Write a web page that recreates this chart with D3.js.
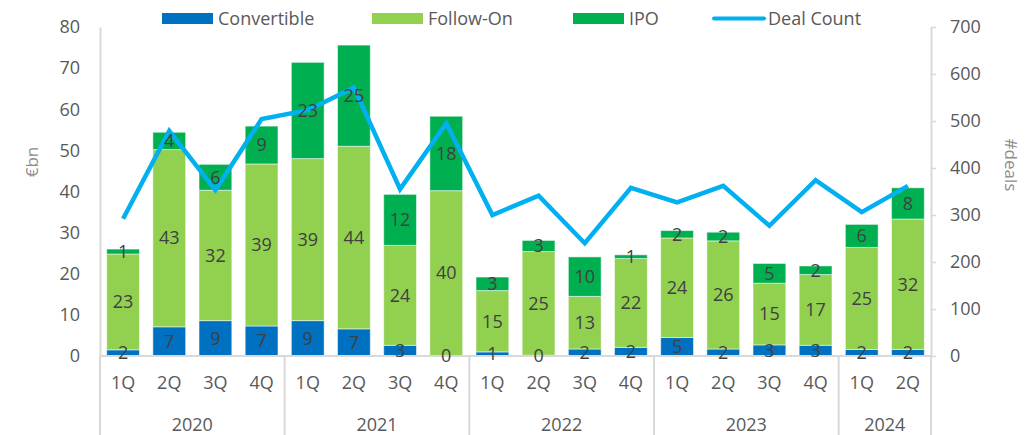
<!DOCTYPE html>
<html lang="en">
  <head>
    <meta charset="UTF-8" />
    <title>Equity issuance</title>
    <style>
      body { margin: 0; background: #fff; }
      text { font-family: "Open Sans", sans-serif; }
    </style>
  </head>
  <body>
    <svg id="svg" width="1029" height="435"></svg>

    <script src="https://cdn.jsdelivr.net/npm/d3@7"></script>
    <script>
      const WIDTH = 1029;
      const HEIGHT = 435;
      const LEFT = 100;
      const RIGHT = 931;
      const TOP = 27;
      const BASE = 356;
      const FONT = 18;

      const quarters = ["1Q", "2Q", "3Q", "4Q", "1Q", "2Q", "3Q", "4Q", "1Q", "2Q", "3Q", "4Q", "1Q", "2Q", "3Q", "4Q", "1Q", "2Q"];
      const years = ["2020", "2021", "2022", "2023", "2024"];
      const quartersPerYear = [4, 4, 4, 4, 2];

      // €bn per quarter
      const convertible = [1.5, 7.1, 8.6, 7.3, 8.6, 6.6, 2.6, 0.1, 1.0, 0.2, 1.7, 2.1, 4.5, 1.7, 2.7, 2.6, 1.6, 1.6];
      const followOn = [23.3, 43.1, 31.7, 39.4, 39.4, 44.4, 24.3, 40.1, 14.9, 25.2, 12.8, 21.6, 24.2, 26.3, 15.0, 17.2, 24.8, 31.7];
      const ipo = [1.2, 4.2, 6.3, 9.2, 23.4, 24.6, 12.4, 18.1, 3.3, 2.7, 9.6, 0.9, 1.8, 2.1, 4.8, 2.1, 5.6, 7.6];
      const dealCount = [292, 479, 353, 504, 523, 571, 355, 495, 300, 341, 240, 358, 327, 362, 277, 374, 306, 362];

      const leftTicks = [0, 10, 20, 30, 40, 50, 60, 70, 80];
      const rightTicks = [0, 100, 200, 300, 400, 500, 600, 700];

      const seriesNames = ["Convertible", "Follow-On", "IPO"];
      const colors = { Convertible: "#0070C0", "Follow-On": "#92D050", IPO: "#00B050" };
      const LINE_COLOR = "#00B0F0";
      const AXIS_COLOR = "#D9D9D9";
      const TEXT_COLOR = "#595959";

      const svg = d3.select("#svg");

      const x = d3
        .scaleBand()
        .domain(d3.range(quarters.length))
        .range([LEFT, RIGHT])
        .paddingInner(0.29)
        .paddingOuter(0.145);

      const y = d3.scaleLinear().domain([0, 80]).range([BASE, TOP]);
      const y2 = d3.scaleLinear().domain([0, 700]).range([BASE, TOP]);

      const table = quarters.map((q, i) => ({
        Convertible: convertible[i],
        "Follow-On": followOn[i],
        IPO: ipo[i],
      }));
      const stacked = d3.stack().keys(seriesNames)(table);

      // left axis
      const leftAxis = svg
        .append("g")
        .attr("transform", `translate(${LEFT},0)`)
        .call(d3.axisLeft(y).tickValues(leftTicks).tickSize(0).tickPadding(20));
      leftAxis.select(".domain").attr("stroke", AXIS_COLOR).attr("stroke-width", 2);
      leftAxis.selectAll("text").attr("fill", TEXT_COLOR).attr("font-size", FONT).attr("font-family", "Open Sans");

      // right axis
      const rightAxis = svg
        .append("g")
        .attr("transform", `translate(${RIGHT},0)`)
        .call(d3.axisRight(y2).tickValues(rightTicks).tickSize(5).tickSizeOuter(0).tickPadding(14));
      rightAxis.select(".domain").attr("stroke", AXIS_COLOR).attr("stroke-width", 2);
      rightAxis.selectAll("line").attr("stroke", AXIS_COLOR).attr("stroke-width", 1.5);
      rightAxis.selectAll("text").attr("fill", TEXT_COLOR).attr("font-size", FONT).attr("font-family", "Open Sans");

      // bars
      const layers = svg
        .append("g")
        .selectAll("g")
        .data(stacked)
        .join("g")
        .attr("fill", (d) => colors[d.key]);

      layers
        .selectAll("rect")
        .data((d) => d)
        .join("rect")
        .attr("x", (d, i) => x(i))
        .attr("width", x.bandwidth())
        .attr("y", (d) => y(d[1]))
        .attr("height", (d) => y(d[0]) - y(d[1]))
        .attr("stroke", "#ffffff")
        .attr("stroke-opacity", 0.5)
        .attr("stroke-width", 1);

      // category axis
      svg
        .append("line")
        .attr("x1", LEFT)
        .attr("x2", RIGHT)
        .attr("y1", BASE)
        .attr("y2", BASE)
        .attr("stroke", AXIS_COLOR)
        .attr("stroke-width", 2);

      const step = x.step();
      let start = 0;
      const bounds = [0];
      quartersPerYear.forEach((n) => {
        start += n;
        bounds.push(start);
      });
      svg
        .append("g")
        .selectAll("line")
        .data(bounds)
        .join("line")
        .attr("x1", (d) => LEFT + d * step)
        .attr("x2", (d) => LEFT + d * step)
        .attr("y1", BASE)
        .attr("y2", HEIGHT)
        .attr("stroke", AXIS_COLOR)
        .attr("stroke-width", 2);

      svg
        .append("g")
        .selectAll("text")
        .data(quarters)
        .join("text")
        .attr("x", (d, i) => x(i) + x.bandwidth() / 2)
        .attr("y", 383)
        .attr("dy", "0.35em")
        .attr("text-anchor", "middle")
        .attr("font-size", FONT)
        .attr("fill", TEXT_COLOR)
        .text((d) => d);

      svg
        .append("g")
        .selectAll("text")
        .data(years)
        .join("text")
        .attr("x", (d, i) => LEFT + ((bounds[i] + bounds[i + 1]) / 2) * step)
        .attr("y", 425)
        .attr("dy", "0.35em")
        .attr("text-anchor", "middle")
        .attr("font-size", FONT)
        .attr("fill", TEXT_COLOR)
        .text((d) => d);

      // deal count line
      const line = d3
        .line()
        .x((d, i) => x(i) + x.bandwidth() / 2)
        .y((d) => y2(d));
      svg
        .append("path")
        .attr("d", line(dealCount))
        .attr("fill", "none")
        .attr("stroke", LINE_COLOR)
        .attr("stroke-width", 4.5)
        .attr("stroke-linejoin", "miter");

      // data labels, on top of everything
      svg
        .append("g")
        .selectAll("g")
        .data(stacked)
        .join("g")
        .selectAll("text")
        .data((d) => d)
        .join("text")
        .attr("x", (d, i) => x(i) + x.bandwidth() / 2)
        .attr("y", (d) => (y(d[0]) + y(d[1])) / 2)
        .attr("dy", "0.35em")
        .attr("text-anchor", "middle")
        .attr("font-size", FONT)
        .attr("fill", "#404040")
        .text((d) => Math.round(d[1] - d[0]));

      // axis titles
      svg
        .append("text")
        .attr("transform", "translate(32,162) rotate(-90)")
        .attr("text-anchor", "middle")
        .attr("dy", "0.35em")
        .attr("font-size", 17)
        .attr("fill", "#8C8C8C")
        .text("€bn");
      svg
        .append("text")
        .attr("transform", "translate(1011,165) rotate(90)")
        .attr("text-anchor", "middle")
        .attr("dy", "0.35em")
        .attr("font-size", 17)
        .attr("fill", "#8C8C8C")
        .text("#deals");

      // legend
      const legendItems = [
        { name: "Convertible", x: 162, type: "rect" },
        { name: "Follow-On", x: 372, type: "rect" },
        { name: "IPO", x: 573, type: "rect" },
        { name: "Deal Count", x: 712, type: "line" },
      ];
      const legend = svg.append("g");
      legendItems.forEach((item) => {
        if (item.type === "rect") {
          legend
            .append("rect")
            .attr("x", item.x)
            .attr("y", 13)
            .attr("width", 51)
            .attr("height", 11)
            .attr("fill", colors[item.name]);
        } else {
          legend
            .append("line")
            .attr("x1", item.x + 2)
            .attr("x2", item.x + 52)
            .attr("y1", 18.5)
            .attr("y2", 18.5)
            .attr("stroke", LINE_COLOR)
            .attr("stroke-width", 4)
            .attr("stroke-linecap", "round");
        }
        legend
          .append("text")
          .attr("x", item.x + 56)
          .attr("y", 18.5)
          .attr("dy", "0.35em")
          .attr("font-size", FONT)
          .attr("fill", TEXT_COLOR)
          .text(item.name);
      });
    </script>
  </body>
</html>
